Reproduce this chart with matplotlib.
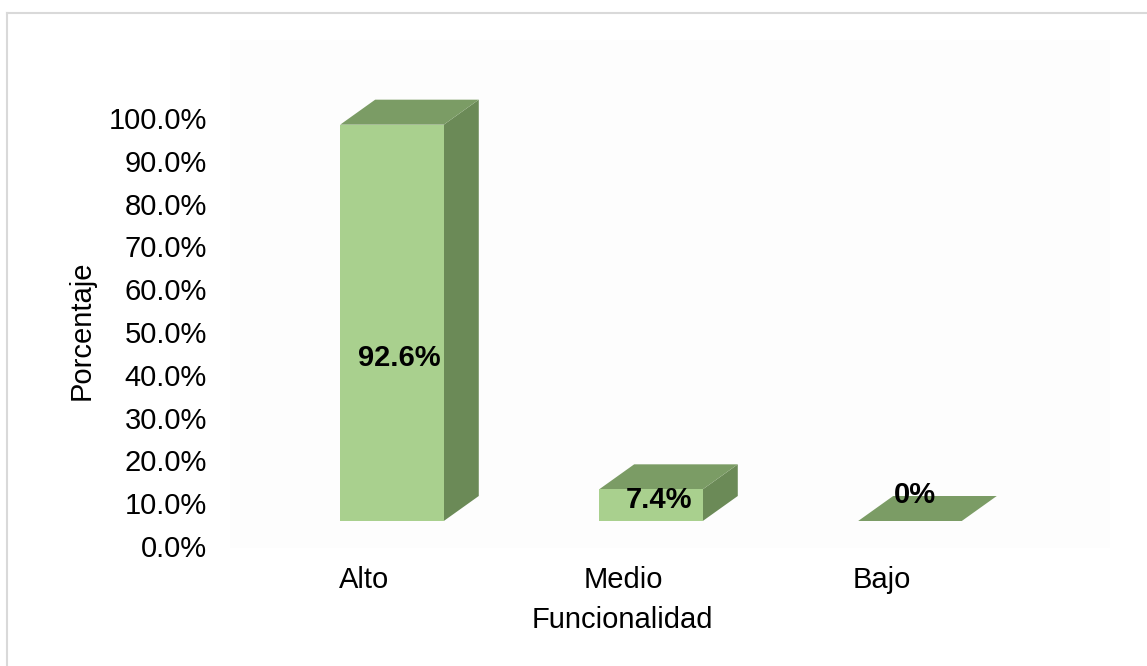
import matplotlib.pyplot as plt
from matplotlib.patches import Polygon
from matplotlib.lines import Line2D

categories = ['Alto', 'Medio', 'Bajo']
values = [92.6, 7.4, 0.0]
value_labels = ['92.6%', '7.4%', '0%']
yticks = [0, 10, 20, 30, 40, 50, 60, 70, 80, 90, 100]

FRONT = '#a9d08e'
TOP = '#7b9c65'
SIDE = '#6b8a57'

plt.rcParams['font.family'] = ['Liberation Sans', 'DejaVu Sans']

W, H = 1147, 666
fig = plt.figure(figsize=(W / 100, H / 100), dpi=100)

# plot area in pixels (left, top, right, bottom)
px_l, px_t, px_r, px_b = 230, 40, 1110, 548
ax = fig.add_axes([px_l / W, 1 - px_b / H, (px_r - px_l) / W, (px_b - px_t) / H])
ax.set_facecolor('#fdfdfd')

ppu_y = 4.28        # pixels per percent
ppu_x = 259.0       # pixels per category step
x0_px = 364         # pixel of first category
ax.set_ylim(-(px_b - 546) / ppu_y, (546 - px_t) / ppu_y)
ax.set_xlim((px_l - x0_px) / ppu_x, (px_r - x0_px) / ppu_x)

# 3D look parameters (data units)
base = 25 / ppu_y
dx = 35 / ppu_x
dy = 25 / ppu_y
left_off, width = -0.092, 0.40

for i, v in enumerate(values):
    xl = i + left_off
    xr = xl + width
    y0 = base
    y1 = base + v
    # side face
    if v > 0:
        ax.add_patch(Polygon([(xr, y0), (xr + dx, y0 + dy), (xr + dx, y1 + dy), (xr, y1)],
                             closed=True, fc=SIDE, ec='none'))
    # top face
    ax.add_patch(Polygon([(xl, y1), (xr, y1), (xr + dx, y1 + dy), (xl + dx, y1 + dy)],
                         closed=True, fc=TOP, ec='none'))
    # front face
    if v > 0:
        ax.add_patch(Polygon([(xl, y0), (xr, y0), (xr, y1), (xl, y1)],
                             closed=True, fc=FRONT, ec='none'))
    # data label
    if v == 0:
        ly = base + dy + 0.3
        lx = xl + width / 2 + dx * 0.15
    else:
        ly = base + 0.39 * v + 2
        lx = xl + width / 2 + 0.03
    ax.text(lx, ly, value_labels[i], ha='center', va='center',
            fontsize=21, fontweight='bold', color='black')

ax.set_yticks(yticks)
ax.set_yticklabels([f'{t:.1f}%' for t in yticks])
ax.set_xticks(range(len(categories)))
ax.set_xticklabels(categories)
ax.tick_params(axis='y', length=0, pad=16.5, labelsize=21)
ax.tick_params(axis='x', length=0, pad=13, labelsize=21)
for s in ax.spines.values():
    s.set_visible(False)

fig.text(622 / W, 1 - 620 / H, 'Funcionalidad', ha='center', va='center', fontsize=21)
fig.text(82 / W, 1 - 330 / H, 'Porcentaje', ha='center', va='center',
         rotation=90, fontsize=21)

# outer chart border (top and left visible)
fig.add_artist(Line2D([7.5 / W, 7.5 / W], [0, 1 - 12.5 / H], color='#d9d9d9', lw=1.5))
fig.add_artist(Line2D([7.5 / W, 1], [1 - 12.5 / H, 1 - 12.5 / H], color='#d9d9d9', lw=1.5))

fig.savefig('out.png', dpi=100)
